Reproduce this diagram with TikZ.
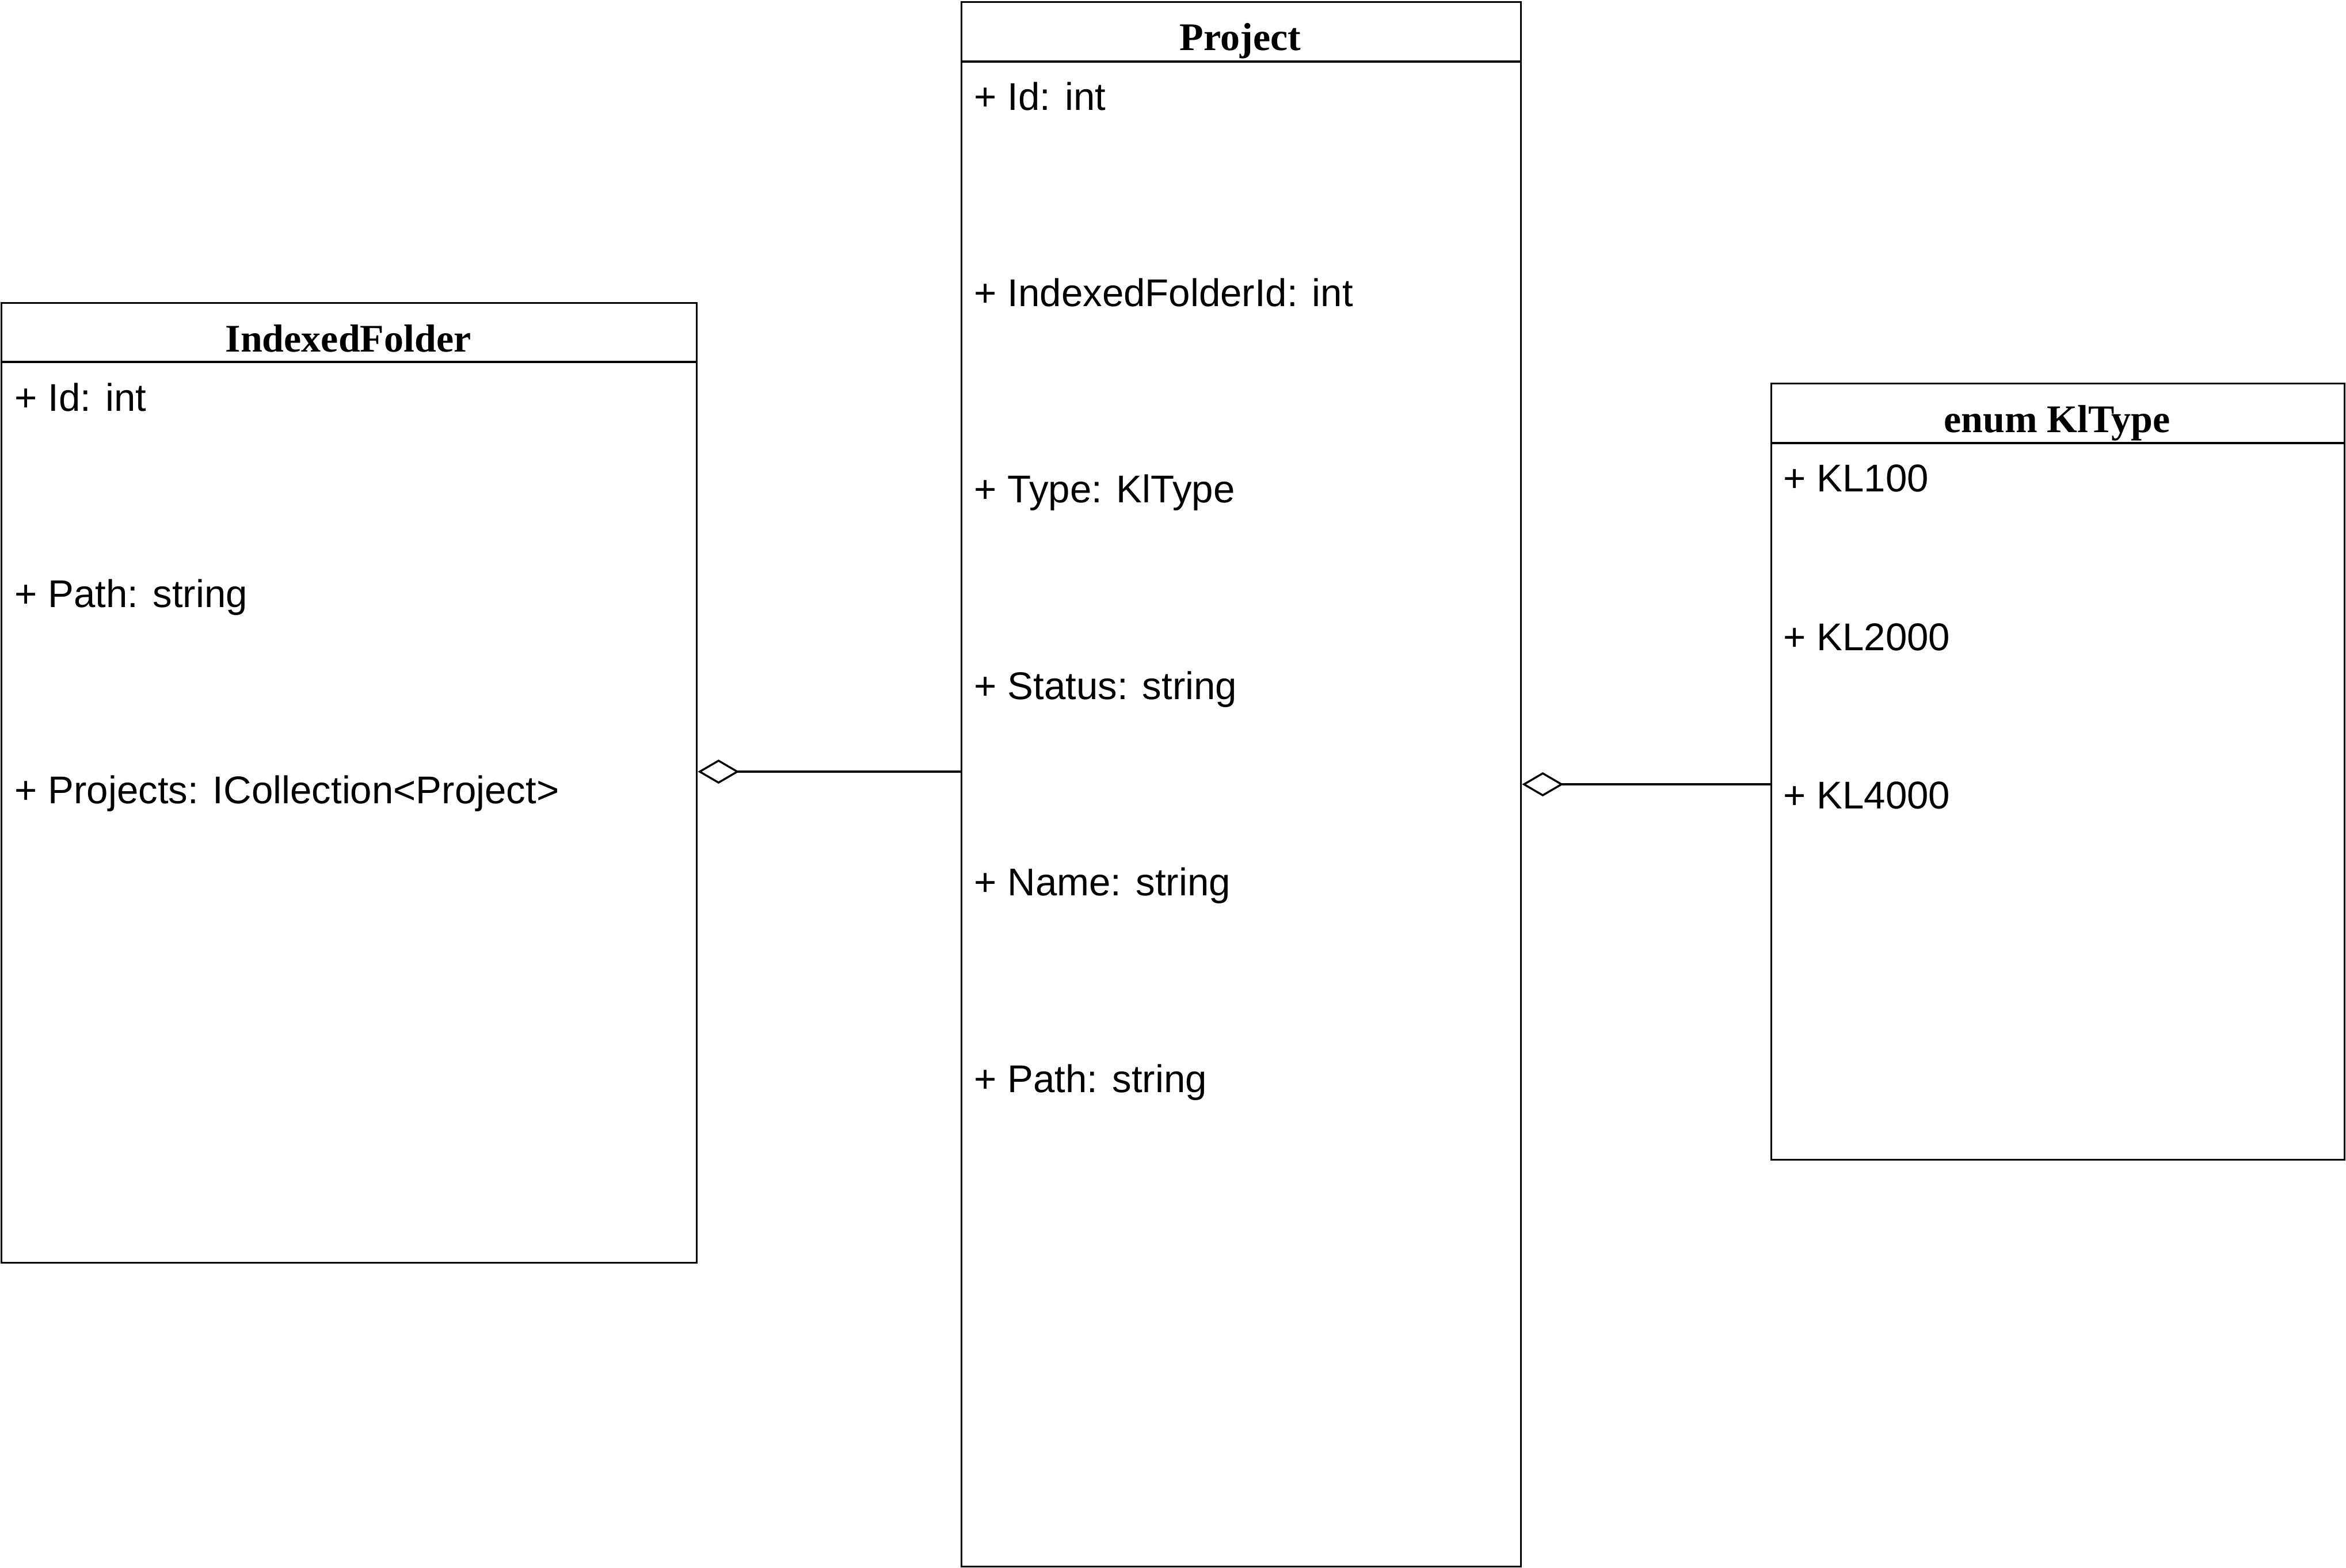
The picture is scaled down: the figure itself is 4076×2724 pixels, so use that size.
\documentclass[tikz,border=0pt]{standalone}
\usepackage{fontspec}
\setmainfont{Liberation Sans}
\newfontfamily\headfont{Liberation Serif}
\usetikzlibrary{arrows.meta}

\tikzset{
  umlbox/.style={draw, line width=0.85pt, inner sep=0pt, anchor=north west},
  sepline/.style={line width=0.85pt},
  member/.style={anchor=base west, inner sep=0pt, font=\fontsize{16.8pt}{20pt}\selectfont},
  title/.style={anchor=base, inner sep=0pt, font=\headfont\bfseries\fontsize{17pt}{20pt}\selectfont},
  agg/.style={line width=0.85pt, {Diamond[open, length=18pt, width=10.5pt, line width=0.85pt]}-},
}

\begin{document}
\begin{tikzpicture}[x=0.25pt, y=-0.25pt]
  \useasboundingbox (0,0) rectangle (4076,2724);

  % class boxes (sizes in pt = pixels / 4)
  \node[umlbox, minimum width=302pt, minimum height=417pt] (folder) at (1,525) {};
  \node[umlbox, minimum width=243pt, minimum height=679.75pt] (proj) at (1669,2) {};
  \node[umlbox, minimum width=249pt, minimum height=337.25pt] (kl) at (3076,665) {};

  % header separators
  \draw[sepline] (folder.west |- 0,629) -- (folder.east |- 0,629);
  \draw[sepline] (proj.west |- 0,107) -- (proj.east |- 0,107);
  \draw[sepline] (kl.west |- 0,770) -- (kl.east |- 0,770);

  % titles
  \node[title] (folderT) at (605,611) {IndexedFolder};
  \node[title] (projT) at (2155,87) {Project};
  \node[title] (klT) at (3574,751) {enum KlType};

  % IndexedFolder members
  \node[member] (f1) at (25,714) {+ Id: int};
  \node[member] (f2) at (25,1055) {+ Path: string};
  \node[member] (f3) at (25,1396) {+ Projects: ICollection<Project>};

  % Project members
  \node[member] (p1) at (1692,191) {+ Id: int};
  \node[member] (p2) at (1692,532) {+ IndexedFolderId: int};
  \node[member] (p3) at (1692,873) {+ Type: KlType};
  \node[member] (p4) at (1692,1215) {+ Status: string};
  \node[member] (p5) at (1692,1556) {+ Name: string};
  \node[member] (p6) at (1692,1898) {+ Path: string};

  % KlType members
  \node[member] (k1) at (3098,854) {+ KL100};
  \node[member] (k2) at (3098,1130) {+ KL2000};
  \node[member] (k3) at (3098,1405) {+ KL4000};

  % aggregation connectors
  \coordinate (c1) at (0,1341);
  \coordinate (c2) at (0,1363);
  \draw[agg] (folder.east |- c1) -- (proj.west |- c1);
  \draw[agg] (proj.east |- c2) -- (kl.west |- c2);
\end{tikzpicture}
\end{document}
